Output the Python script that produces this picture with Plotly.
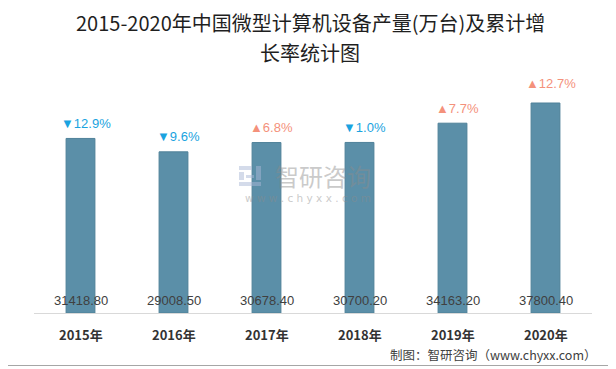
import plotly.graph_objects as go

years = ["2015年", "2016年", "2017年", "2018年", "2019年", "2020年"]
output = [31418.80, 29008.50, 30678.40, 30700.20, 34163.20, 37800.40]
growth_labels = ["▼12.9%", "▼9.6%", "▲6.8%", "▼1.0%", "▲7.7%", "▲12.7%"]
title_lines = ["2015-2020年中国微型计算机设备产量(万台)及累计增", "长率统计图"]
source_text = "制图：智研咨询（www.chyxx.com）"

BAR = "#5b8fa8"
UP = "#f4917b"
DOWN = "#1aa3e0"
OFF = 8  # browser default body margin
W, H = 616 - OFF, 369 - OFF
PLOT_TOP, PLOT_BOT, PLOT_L, PLOT_R = 80 - OFF, 313 - OFF, 34 - OFF, 592 - OFF
ph = PLOT_BOT - PLOT_TOP
pw = PLOT_R - PLOT_L


def px(x):
    return (x - OFF - PLOT_L) / pw


def py(y):
    return (PLOT_BOT - (y - OFF)) / ph


fig = go.Figure()
fig.add_trace(go.Bar(
    x=years, y=output,
    marker=dict(color=BAR, line=dict(color="#4f8199", width=1)),
    hoverinfo="x+y",
))

ann = []
for yr, v in zip(years, output):
    ann.append(dict(x=yr, y=0, xref="x", yref="y", text=f"{v:.2f}", showarrow=False,
                    yshift=13, yanchor="middle",
                    font=dict(family="Liberation Sans, Arial", size=13, color="#404040")))
    ann.append(dict(x=yr, y=0, xref="x", yref="y", text=f"<b>{yr}</b>", showarrow=False,
                    yshift=-21, yanchor="middle",
                    font=dict(family="Noto Sans CJK SC", size=13, color="#333333")))
for i, (yr, v, lab) in enumerate(zip(years, output, growth_labels)):
    ann.append(dict(x=yr, y=v, xref="x", yref="y", text=lab, showarrow=False,
                    yshift=20 if i == 5 else 15, xshift=5, yanchor="middle",
                    font=dict(family="Liberation Sans, Arial", size=13,
                              color=UP if lab.startswith("▲") else DOWN)))

# title (two lines)
for line, yy in zip(title_lines, [23, 52]):
    ann.append(dict(x=px(310), y=py(yy), xref="paper", yref="paper", xanchor="center",
                    yanchor="middle", text=line, showarrow=False,
                    font=dict(family="Noto Sans CJK SC", size=20, color="#1f1f1f")))
# watermark
ann.append(dict(x=px(323), y=py(175), xref="paper", yref="paper", xanchor="center",
                yanchor="middle", text="智研咨询", showarrow=False, opacity=0.45,
                font=dict(family="Noto Sans CJK SC", size=24, color="#8c8c8c")))
ann.append(dict(x=px(308), y=py(198), xref="paper", yref="paper", xanchor="center",
                yanchor="middle", text="w w w . c h y x x . c o m", showarrow=False, opacity=0.45,
                font=dict(family="DejaVu Sans", size=10.5, color="#8c8c8c")))
# source
ann.append(dict(x=px(599), y=py(354), xref="paper", yref="paper",
                xanchor="right", yanchor="middle", text=source_text, showarrow=False,
                font=dict(family="Noto Sans CJK SC", size=12.5, color="#404040")))

shapes = [dict(type="rect", xref="paper", yref="paper",
               x0=px(5.5), x1=px(609.5), y0=py(365.5), y1=py(3.5),
               line=dict(color="#a6a6a6", width=1))]
# watermark logo (stylised stripes)
for (xa, xb, ya, yb) in [(239, 252, 166, 170), (239, 244, 172, 180), (246, 254, 175, 178),
                         (239, 261, 182, 186), (256, 261, 166, 180)]:
    shapes.append(dict(type="rect", xref="paper", yref="paper", x0=px(xa), x1=px(xb),
                       y0=py(yb), y1=py(ya), line=dict(width=0),
                       fillcolor="#aab8d6", opacity=0.5))

fig.update_layout(
    width=W, height=H,
    margin=dict(l=PLOT_L, r=W - PLOT_R, t=PLOT_TOP, b=H - PLOT_BOT, pad=0, autoexpand=False),
    paper_bgcolor="white", plot_bgcolor="white",
    showlegend=False, bargap=0.69,
    annotations=ann,
    xaxis=dict(showticklabels=False, showline=True, linecolor="#d9d9d9", linewidth=1,
               ticks="", showgrid=False, zeroline=False),
    yaxis=dict(range=[0, ph * 180], visible=False, showgrid=False, zeroline=False),
    shapes=shapes,
)

fig.write_html("out.html")
